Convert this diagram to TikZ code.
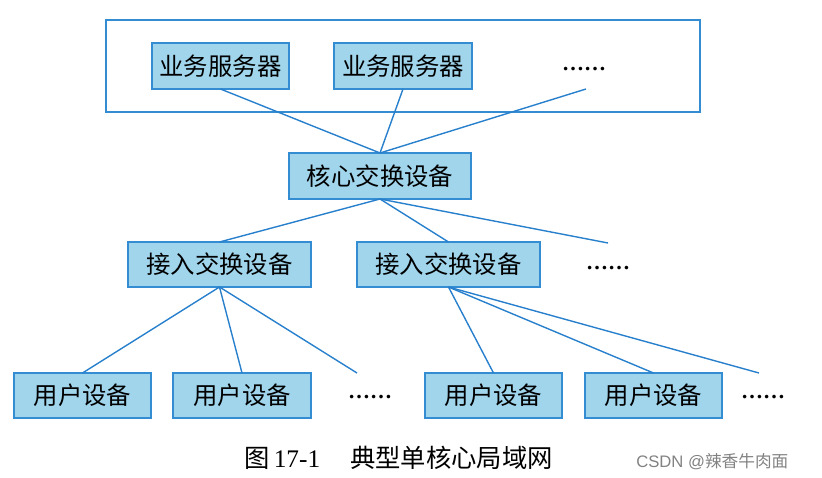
\documentclass[tikz,border=0pt]{standalone}
\usepackage{fontspec}
\setmainfont{Noto Sans CJK SC}
\newfontfamily\serifnum{Liberation Serif}
\newfontfamily\latsans{Liberation Sans}
\definecolor{boxfill}{RGB}{160,213,236}
\definecolor{boxline}{RGB}{52,140,210}
\definecolor{linkblue}{RGB}{40,128,205}
\definecolor{wmgrey}{RGB}{130,130,130}
\begin{document}
\begin{tikzpicture}[x=0.75pt,y=-0.75pt,
  devbox/.style={draw=boxline,line width=0.9pt,fill=boxfill,inner sep=0pt,outer sep=0pt,
    minimum height=34.5pt,font=\fontsize{18.3pt}{20pt}\selectfont},
  link/.style={draw=linkblue,line width=1.05pt},
  dotsnode/.style={inner sep=0pt,font=\serifnum\bfseries\fontsize{16.5pt}{18pt}\selectfont}]
\useasboundingbox (0,0) rectangle (822,478);
% outer frame
\node[draw=boxline,line width=1pt,minimum width=445.5pt,minimum height=69pt,inner sep=0pt] (frame) at (403,66) {};
% servers
\node[devbox,minimum width=102.75pt] (s1) at (220.5,66) {业务服务器};
\node[devbox,minimum width=103.5pt] (s2) at (403,66) {业务服务器};
\node[dotsnode] (sd) at (584,69) {……};
\coordinate (s3) at (586,89);
% core
\node[devbox,minimum width=136.5pt] (core) at (380,176) {核心交换设备};
% access
\node[devbox,minimum width=137.25pt,minimum height=33.75pt] (a1) at (219.5,264.5) {接入交换设备};
\node[devbox,minimum width=137.25pt,minimum height=33.75pt] (a2) at (448.5,264.5) {接入交换设备};
\node[dotsnode] (ad) at (608,268) {……};
\coordinate (a3) at (608,243);
% users
\node[devbox,minimum width=102.75pt,minimum height=33.75pt] (u1) at (82.5,395.5) {用户设备};
\node[devbox,minimum width=103.5pt,minimum height=33.75pt] (u2) at (242,395.5) {用户设备};
\node[dotsnode] (ud1) at (370,397) {……};
\coordinate (u1x) at (357,373);
\node[devbox,minimum width=102.75pt,minimum height=33.75pt] (u3) at (493.5,395.5) {用户设备};
\node[devbox,minimum width=102.75pt,minimum height=33.75pt] (u4) at (653.5,395.5) {用户设备};
\node[dotsnode] (ud2) at (763,397) {……};
\coordinate (u2x) at (759,373);
% links
\draw[link] (s1.south) -- (core.north);
\draw[link] (s2.south) -- (core.north);
\draw[link] (s3) -- (core.north);
\draw[link] (core.south) -- (a1.north);
\draw[link] (core.south) -- (a2.north);
\draw[link] (core.south) -- (a3);
\draw[link] (a1.south) -- (u1.north);
\draw[link] (a1.south) -- (u2.north);
\draw[link] (a1.south) -- (u1x);
\draw[link] (a2.south) -- (u3.north);
\draw[link] (a2.south) -- (u4.north);
\draw[link] (a2.south) -- (u2x);
% caption
\node[anchor=west,inner sep=0pt,font=\fontsize{19pt}{21pt}\selectfont] (cap1) at (244,458) {图\,{\serifnum 17-1}};
\node[anchor=west,inner sep=0pt,font=\fontsize{19pt}{21pt}\selectfont] (cap2) at (350,458) {典型单核心局域网};
\node[anchor=west,inner sep=0pt,text=wmgrey,font=\fontsize{12.5pt}{14pt}\selectfont] (wm) at (636,462) {{\latsans CSDN @}辣香牛肉面};
\end{tikzpicture}
\end{document}
